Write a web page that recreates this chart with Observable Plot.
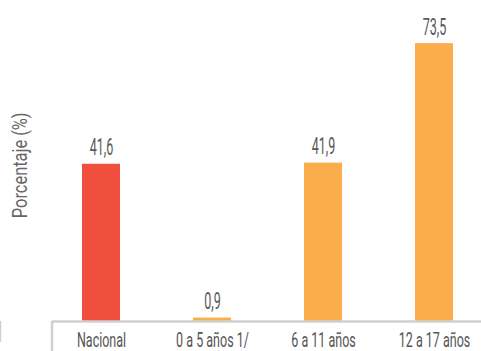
<!DOCTYPE html>
<html><head><meta charset="utf-8">
<script src="https://cdn.jsdelivr.net/npm/d3@7"></script>
<script src="https://cdn.jsdelivr.net/npm/@observablehq/plot@0.6"></script>
<style>
html,body{margin:0;padding:0;background:#fff;overflow:hidden;}
svg{display:block;font-family:Roboto,"DejaVu Sans",sans-serif;}
</style></head>
<body><div id="chart"></div>
<script>
const categories = ["Nacional", "0 a 5 años 1/", "6 a 11 años", "12 a 17 años"];
const values = [41.6, 0.9, 41.9, 73.5];
const groups = ["nacional", "edad", "edad", "edad"];
const colors = {nacional: "#f14f3d", edad: "#fbad4b"};
const yLabel = "Porcentaje (%)";

const data = categories.map((c, i) => ({cat: c, value: values[i], group: groups[i]}));

function sepMark(index, scales, values_, dims) {
  const g = d3.create("svg:g");
  const step = scales.x.step ?? 111.4;
  const bw = scales.x.bandwidth;
  const xb = scales.x(categories[1]) - (step - bw) / 2;
  const y0 = scales.y(0);
  g.append("line").attr("x1", dims.marginLeft).attr("x2", dims.marginLeft)
    .attr("y1", y0).attr("y2", dims.height).attr("stroke", "#d0d0d0").attr("stroke-width", 2.5);
  g.append("line").attr("x1", xb).attr("x2", xb)
    .attr("y1", y0).attr("y2", y0 + 21).attr("stroke", "#d0d0d0").attr("stroke-width", 2.5);
  return g.node();
}

const chart = Plot.plot({
  width: 481,
  height: 351,
  marginLeft: 52,
  marginRight: 0,
  marginTop: 18.6,
  marginBottom: 30,
  x: {domain: categories, range: [44.2, 489.8], paddingInner: 0.659, paddingOuter: 0.3295, label: null},
  y: {domain: [0, 80], label: null},
  color: {domain: Object.keys(colors), range: Object.values(colors)},
  marks: [
    Plot.barY(data, {x: "cat", y: "value", fill: "group"}),
    Plot.ruleY([0], {stroke: "#d0d0d0", strokeWidth: 2.5}),
    sepMark,
    Plot.text(data, {x: "cat", y: "value", text: d => d.value.toFixed(1).replace(".", ","),
      lineAnchor: "bottom", dy: -9, fontSize: 23.5, fill: "#5a5a5a", className: "vlab"}),
    Plot.axisX({tickSize: 0, tickPadding: 11, fontSize: 20.5, fill: "#555", label: null, className: "xlab"}),
    Plot.axisY({ticks: [], label: yLabel, labelAnchor: "center", labelArrow: "none", labelOffset: 40, fontSize: 20, fill: "#666"})
  ]
});
document.getElementById("chart").append(chart);

// condense glyphs to mimic the narrow typeface of the original (factors calibrated on Roboto)
const groupsK = [
  [() => [...chart.querySelectorAll(".vlab text")], 0.534],
  [() => [...chart.querySelectorAll(".xlab text")], 0.61],
  [() => [...chart.querySelectorAll("text")].filter(t => t.textContent.trim() === yLabel), 0.82]
];
function condense() {
  for (const [get, k] of groupsK) {
    get().forEach(t => {
      t.removeAttribute("textLength");
      t.removeAttribute("lengthAdjust");
      const w = t.getComputedTextLength();
      if (w > 0) {
        t.setAttribute("textLength", (w * k).toFixed(1));
        t.setAttribute("lengthAdjust", "spacingAndGlyphs");
      }
    });
  }
}
[...chart.querySelectorAll("text")].filter(t => t.textContent.trim() === yLabel).forEach(t => t.setAttribute("dx", 5));
condense();
if (document.fonts) {
  Promise.all([document.fonts.load("20px Roboto"), document.fonts.ready]).then(condense, condense);
}
</script></body></html>
